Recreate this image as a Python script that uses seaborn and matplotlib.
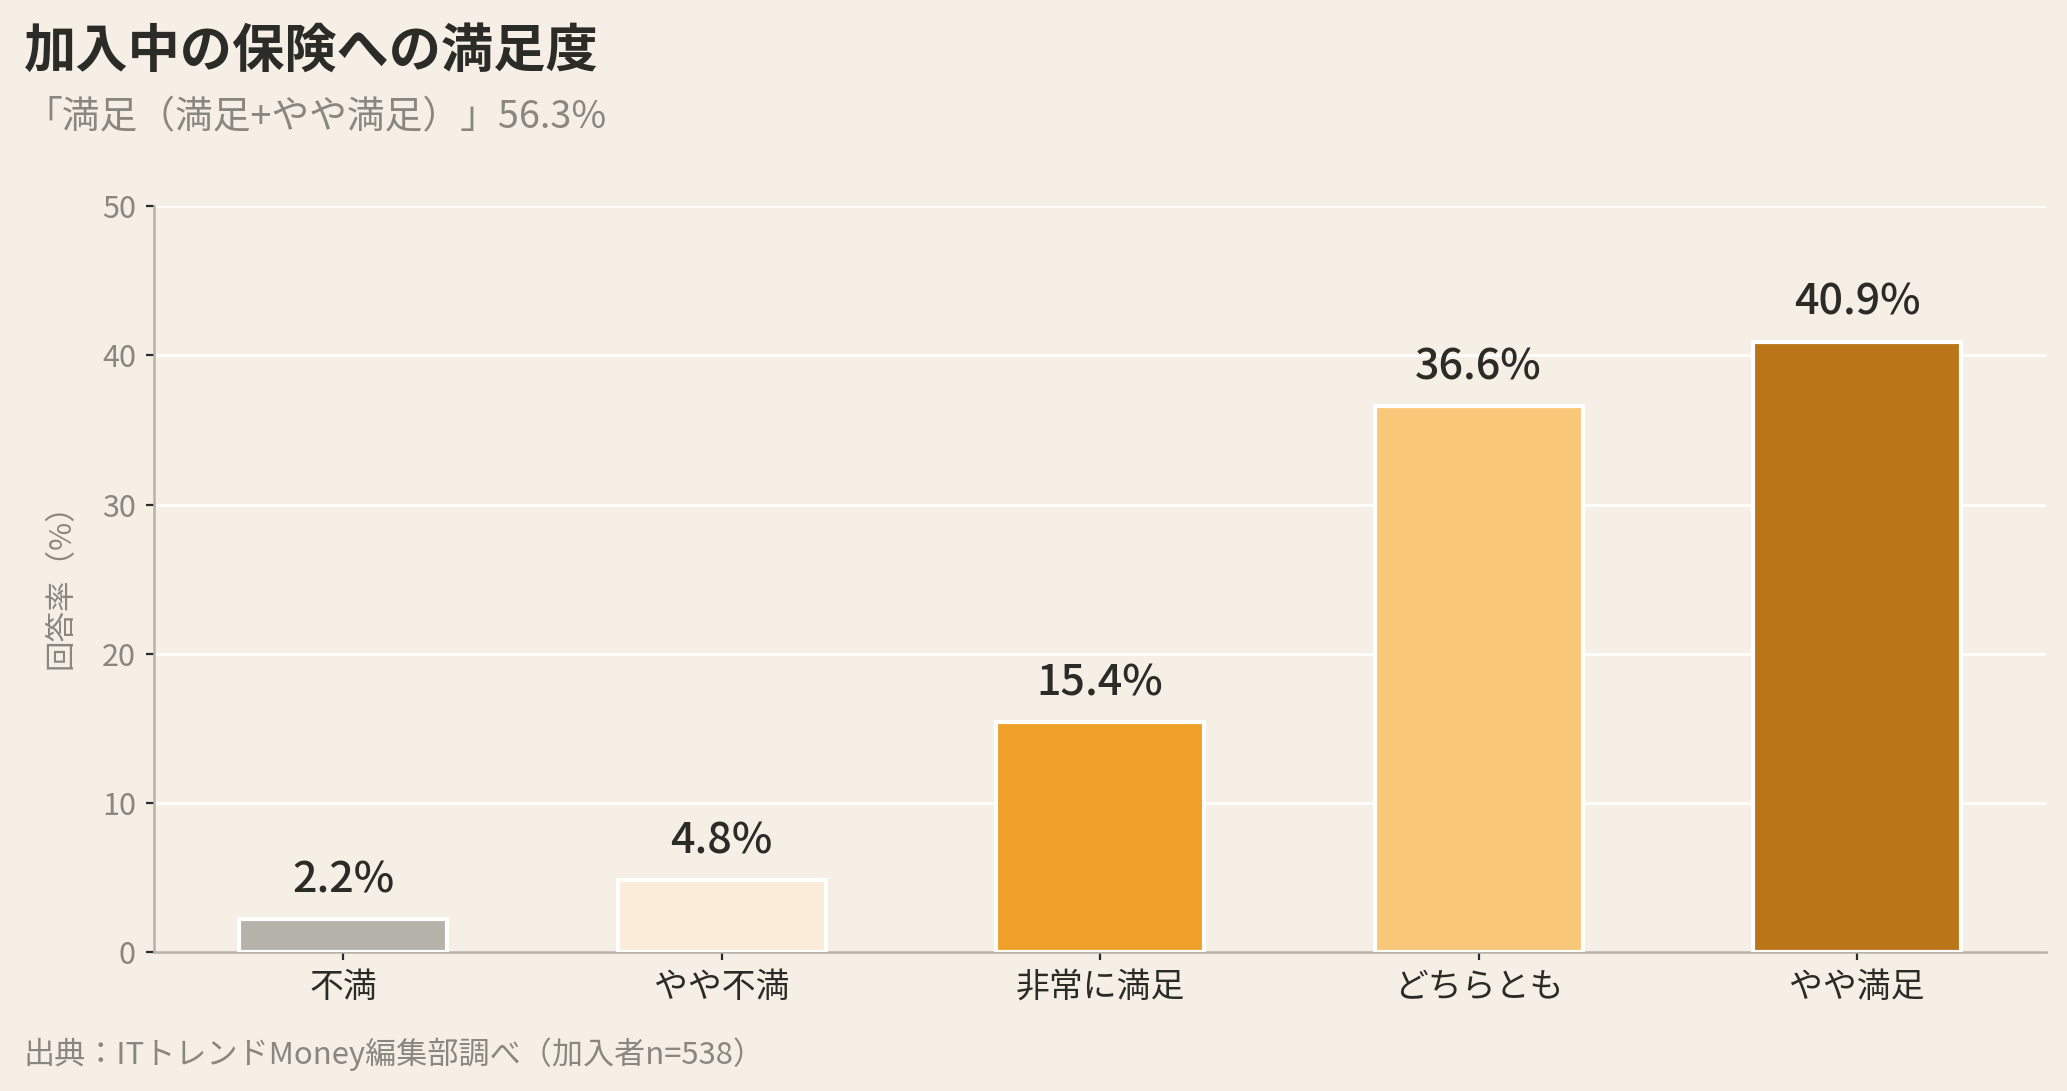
import pandas as pd
import numpy as np
import matplotlib.pyplot as plt
import seaborn as sns

# Data
categories = ["不満", "やや不満", "非常に満足", "どちらとも", "やや満足"]
values = [2.2, 4.8, 15.4, 36.6, 40.9]
bar_colors = ["#b5b2aa", "#faecd9", "#efa02a", "#f8c777", "#bb7519"]
y_ticks = [0, 10, 20, 30, 40, 50]

title = "加入中の保険への満足度"
subtitle = "「満足（満足+やや満足）」56.3%"
source = "出典：ITトレンドMoney編集部調べ（加入者n=538）"

bg = "#f5efe5"
dark = "#2b2b28"
gray = "#8a877f"

sns.set_theme(style="white")
plt.rcParams['font.family'] = ['Noto Sans CJK JP', 'DejaVu Sans']

df = pd.DataFrame({"category": categories, "value": values})

fig = plt.figure(figsize=(10.335, 5.455), dpi=200, facecolor=bg)
ax = fig.add_axes([0.0745, 0.1274, 0.9155, 0.6836])
ax.set_facecolor(bg)

sns.barplot(data=df, x="category", y="value", hue="category",
            palette=bar_colors, legend=False, width=0.55, saturation=1,
            edgecolor="white", linewidth=1.5, ax=ax, zorder=3)

# Value labels
for i, v in enumerate(values):
    ax.annotate(f"{v}%", xy=(i, v), xytext=(0, 6.5), textcoords="offset points",
                ha="center", va="bottom", fontsize=15.5, fontweight="medium", color=dark)

ax.set_ylim(0, 50)
ax.set_xlim(-0.5, 4.5)
ax.set_yticks(y_ticks)
ax.yaxis.grid(True, color="white", linewidth=0.9, zorder=0)
ax.set_axisbelow(True)

ax.set_xlabel("")
ax.set_ylabel("回答率（%）", fontsize=11, color=gray, labelpad=9)
ax.tick_params(axis="y", labelsize=11, labelcolor=gray, color=dark,
               length=3, width=0.8, left=True)
ax.tick_params(axis="x", labelsize=12.2, labelcolor=dark, color=dark,
               length=3, width=0.8, bottom=True)

for s in ["top", "right"]:
    ax.spines[s].set_visible(False)
for s in ["left", "bottom"]:
    ax.spines[s].set_color("#b5b2aa")
    ax.spines[s].set_linewidth(0.9)

fig.text(0.0116, 0.977, title, fontsize=18.8, fontweight="bold", color=dark,
         ha="left", va="top")
fig.text(0.0116, 0.893, subtitle, fontsize=13.6, color=gray, ha="left", va="center")
fig.text(0.0116, 0.034, source, fontsize=11.2, color=gray, ha="left", va="center")

fig.savefig("out.png", dpi=200, facecolor=bg)
